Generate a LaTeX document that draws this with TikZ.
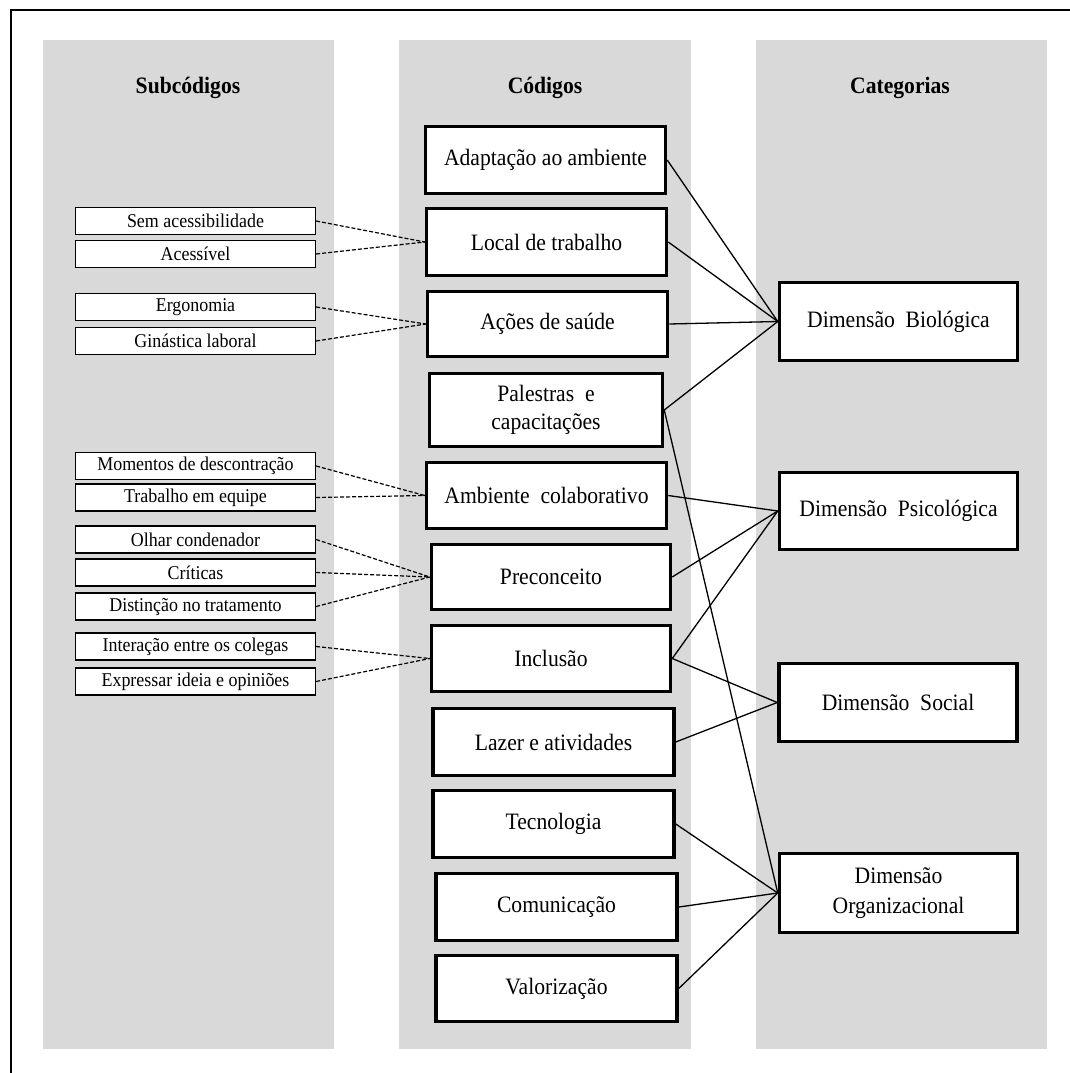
\documentclass[tikz,border=0pt]{standalone}
\usepackage{fontspec}
\setmainfont{Liberation Serif}[FakeStretch=0.92]
\definecolor{colgrey}{HTML}{D9D9D9}
\begin{document}
\begin{tikzpicture}[x=1pt,y=-1pt,
  column/.style={fill=colgrey,draw=none},
  header/.style={font=\fontsize{23.5}{26}\selectfont\bfseries,inner sep=0pt},
  codebox/.style={draw=black,fill=white,line width=3.5pt,inner sep=2pt,align=center,
     font=\fontsize{23.5}{28}\selectfont},
  catbox/.style={draw=black,fill=white,line width=3.5pt,inner sep=2pt,align=center,
     font=\fontsize{23.5}{30}\selectfont,minimum width=238pt},
  subbox/.style={draw=black,fill=white,line width=1.2pt,inner sep=1pt,align=center,
     font=\fontsize{19.5}{22}\selectfont,minimum width=240pt,minimum height=27pt},
  link/.style={line width=1.3pt,black},
  sublink/.style={line width=1.2pt,black,dash pattern=on 4pt off 2pt}
]
\useasboundingbox (0,0) rectangle (1070,1073);
% frame
\draw[line width=2.2pt] (11,1073) -- (11,10) -- (1070,10);
% columns
\fill[column] (43,40) rectangle (334,1049);
\fill[column] (399,40) rectangle (691,1049);
\fill[column] (756,40) rectangle (1047,1049);
% headers
\node[header] (hsub) at (188,88) {Subcódigos};
\node[header] (hcod) at (545,88) {Códigos};
\node[header] (hcat) at (900,88) {Categorias};
% code boxes
\node[codebox,minimum width=240pt,minimum height=67pt] (adapt) at (545.5,160) {Adaptação ao ambiente};
\node[codebox,minimum width=240pt,minimum height=67pt] (local) at (546.5,242) {Local de trabalho};
\node[codebox,minimum width=240pt,minimum height=65pt] (acoes) at (547.5,324) {Ações de saúde};
\node[codebox,minimum width=233pt,minimum height=73pt] (palestras) at (546,410) {Palestras\ \ e\\capacitações};
\node[codebox,minimum width=240pt,minimum height=66pt] (ambiente) at (546.5,495.5) {Ambiente\ \ colaborativo};
\node[codebox,minimum width=239pt,minimum height=65pt] (precon) at (551,577) {Preconceito};
\node[codebox,minimum width=239pt,minimum height=66pt] (inclusao) at (551,658.5) {Inclusão};
\node[codebox,minimum width=241pt,minimum height=67pt] (lazer) at (553.5,742) {Lazer e atividades};
\node[codebox,minimum width=241pt,minimum height=67pt] (tecno) at (553.5,824) {Tecnologia};
\node[codebox,minimum width=241pt,minimum height=67pt] (comun) at (556.5,907) {Comunicação};
\node[codebox,minimum width=241pt,minimum height=66pt] (valor) at (556.5,988.5) {Valorização};
% category boxes
\node[catbox,minimum height=78pt] (bio) at (898.5,321.5) {Dimensão\ \ Biológica};
\node[catbox,minimum height=77pt] (psic) at (898.5,511) {Dimensão\ \ Psicológica};
\node[catbox,minimum height=78pt] (social) at (898,702.5) {Dimensão\ \ Social};
\node[catbox,minimum height=79pt] (org) at (898.5,893) {Dimensão\\Organizacional};
% subcode boxes
\node[subbox] (sem) at (195.5,221) {Sem acessibilidade};
\node[subbox] (acess) at (195.5,254) {Acessível};
\node[subbox] (ergo) at (195.5,307) {Ergonomia};
\node[subbox] (gin) at (195.5,341) {Ginástica laboral};
\node[subbox] (mom) at (195.5,466) {Momentos de descontração};
\node[subbox] (trab) at (195.5,497.5) {Trabalho em equipe};
\node[subbox] (olhar) at (195.5,539.5) {Olhar condenador};
\node[subbox] (crit) at (195.5,572.5) {Críticas};
\node[subbox] (dist) at (195.5,606.5) {Distinção no tratamento};
\node[subbox] (inter) at (195.5,646.5) {Interação entre os colegas};
\node[subbox] (expr) at (195.5,681.5) {Expressar ideia e opiniões};
% dashed links
\draw[sublink] (sem.east) -- (local.west);
\draw[sublink] (acess.east) -- (local.west);
\draw[sublink] (ergo.east) -- (acoes.west);
\draw[sublink] (gin.east) -- (acoes.west);
\draw[sublink] (mom.east) -- (ambiente.west);
\draw[sublink] (trab.east) -- (ambiente.west);
\draw[sublink] (olhar.east) -- (precon.west);
\draw[sublink] (crit.east) -- (precon.west);
\draw[sublink] (dist.east) -- (precon.west);
\draw[sublink] (inter.east) -- (inclusao.west);
\draw[sublink] (expr.east) -- (inclusao.west);
% solid links
\draw[link] (adapt.east) -- (bio.west);
\draw[link] (local.east) -- (bio.west);
\draw[link] (acoes.east) -- (bio.west);
\draw[link] (palestras.east) -- (bio.west);
\draw[link] (palestras.east) -- (org.west);
\draw[link] (ambiente.east) -- (psic.west);
\draw[link] (precon.east) -- (psic.west);
\draw[link] (inclusao.east) -- (psic.west);
\draw[link] (inclusao.east) -- (social.west);
\draw[link] (lazer.east) -- (social.west);
\draw[link] (tecno.east) -- (org.west);
\draw[link] (comun.east) -- (org.west);
\draw[link] (valor.east) -- (org.west);
\end{tikzpicture}
\end{document}
